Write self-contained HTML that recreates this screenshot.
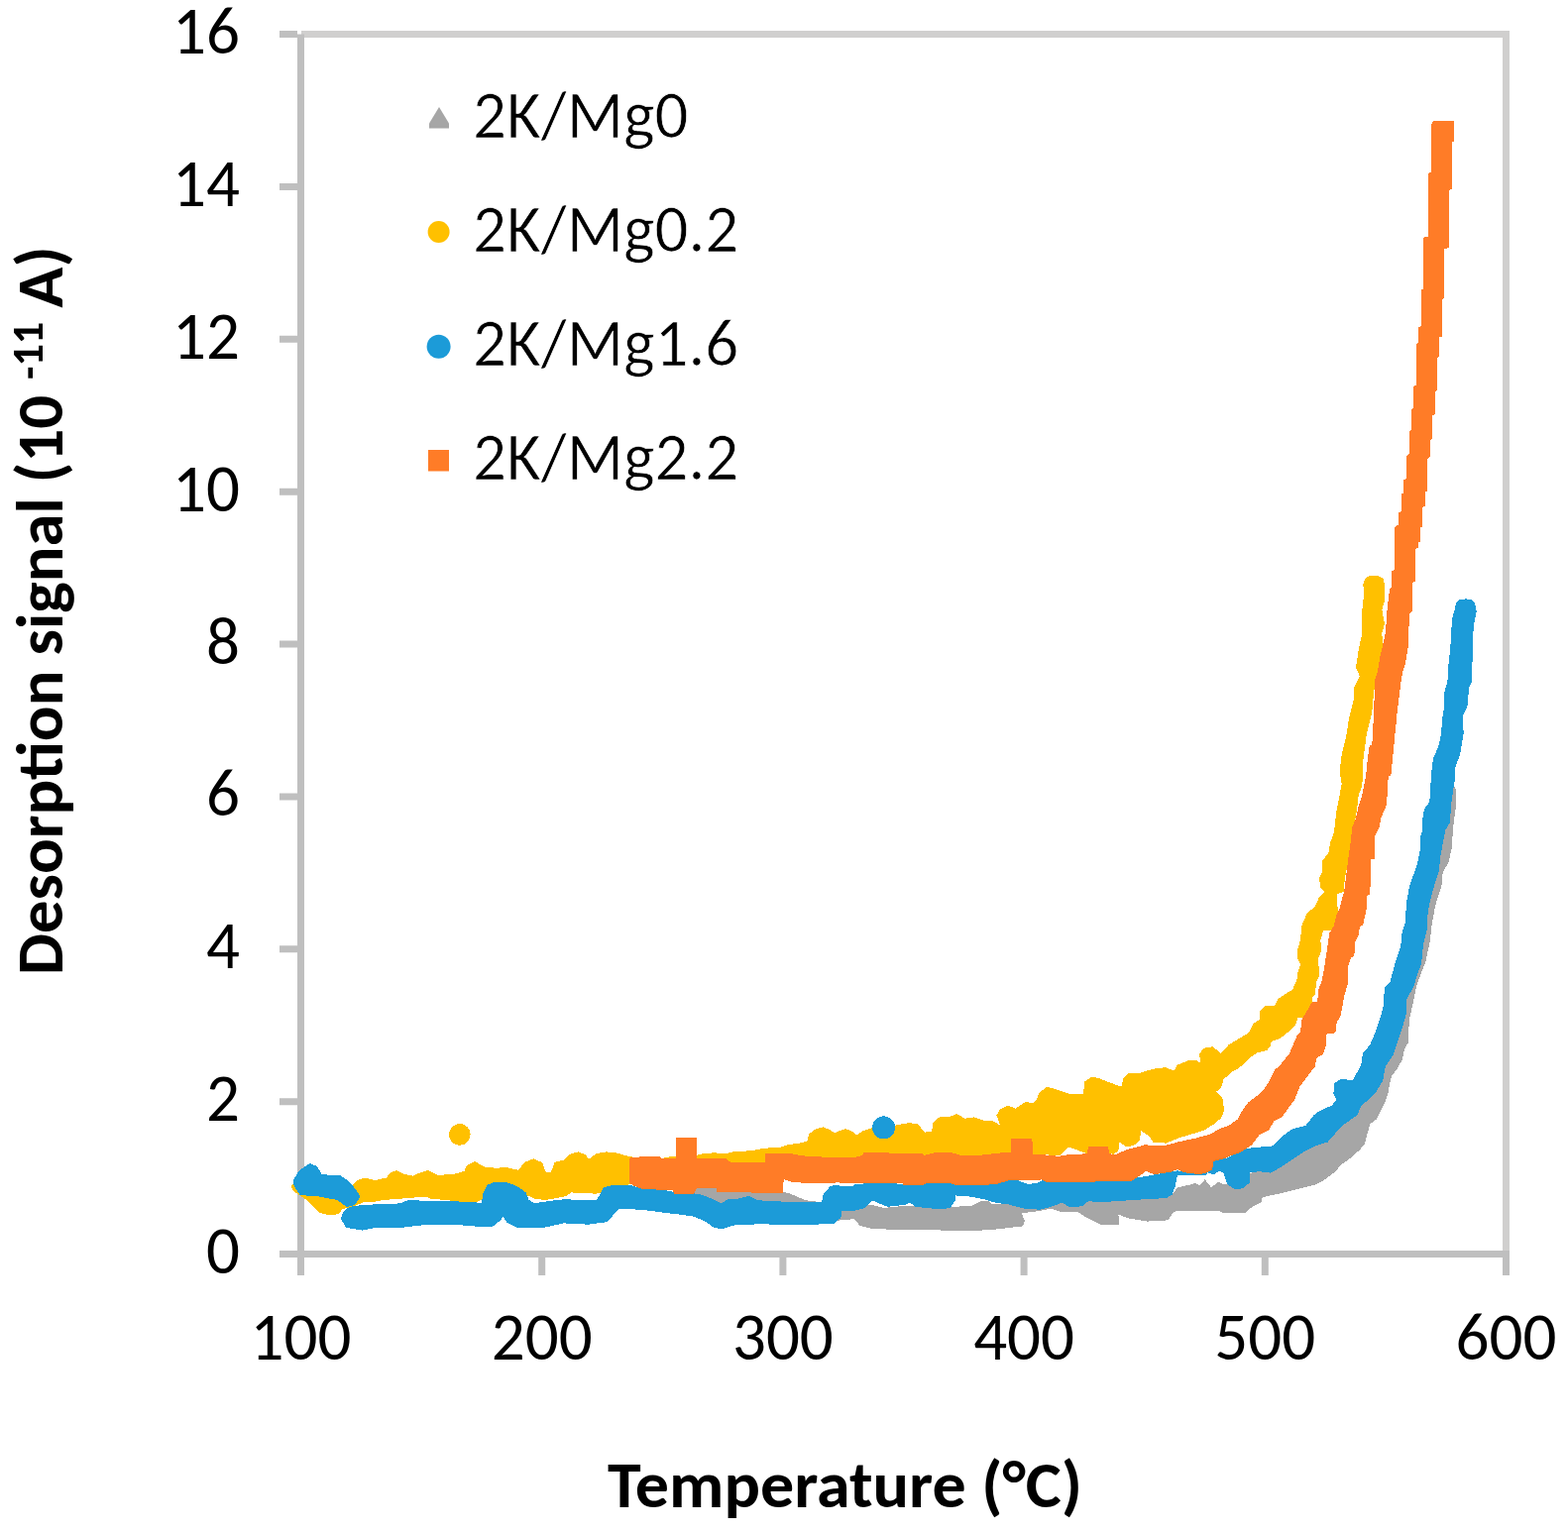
<!DOCTYPE html><html><head><meta charset="utf-8"><title>Desorption signal vs Temperature</title><style>html,body{margin:0;padding:0;background:#fff;overflow:hidden;}svg{display:block}text{font-family:"Carlito","Liberation Sans",sans-serif;fill:#000}text.r{stroke:#fff;stroke-width:0.7px}</style></head><body><svg width="1582" height="1546" viewBox="0 0 1582 1546"><rect width="1582" height="1546" fill="#fff"/><path d="M304 34.5H1519.5V1265.5" fill="none" stroke="#D0CFCE" stroke-width="7"/><path d="M303.5 34.5V1287M282 1265.5H1523" fill="none" stroke="#BFBFBF" stroke-width="7"/><path d="M282 1265.5H300M282 1111.625H300M282 957.75H300M282 803.875H300M282 650.0H300M282 496.125H300M282 342.25H300M282 188.375H300M282 34.5H300" stroke="#BFBFBF" stroke-width="7"/><path d="M303.5 1265.5V1287M546.7 1265.5V1287M789.9 1265.5V1287M1033.1 1265.5V1287M1276.3 1265.5V1287M1519.5 1265.5V1287" stroke="#BFBFBF" stroke-width="7"/><g shape-rendering="crispEdges"><path d="M690.0,1198.0 703.0,1197.3 723.0,1199.2 790.7,1203.0 796.4,1204.3 812.9,1211.3 823.0,1212.5 850.0,1215.0 880.2,1215.9 891.6,1219.0 915.6,1216.5 938.4,1218.4 963.7,1217.8 981.4,1216.5 991.5,1211.5 996.5,1211.5 1000.3,1215.3 1018.0,1214.6 1040.0,1215.0 1062.6,1215.5 1074.0,1213.6 1094.2,1211.7 1161.3,1209.8 1182.7,1205.4 1187.8,1198.4 1201.7,1195.3 1205.5,1194.0 1210.6,1196.5 1215.6,1190.2 1222.0,1198.4 1229.5,1192.7 1234.6,1195.3 1238.4,1195.0 1260.0,1185.0 1290.0,1170.0 1320.0,1150.0 1345.0,1135.0 1370.0,1110.0 1390.0,1070.0 1400.0,1030.0 1415.0,990.0 1425.0,950.0 1435.0,910.0 1445.0,870.0 1452.0,830.0 1458.0,800.0 1462.0,791.0 1466.0,791.0 1468.6,796.5 1468.6,816.4 1466.7,830.0 1464.5,856.8 1461.5,870.2 1455.6,880.6 1454.8,892.5 1449.6,908.9 1447.4,917.8 1444.4,934.2 1442.9,949.0 1438.5,969.9 1434.0,981.8 1429.5,993.7 1425.8,1011.5 1422.1,1027.9 1421.1,1041.3 1421.1,1051.6 1417.2,1058.1 1414.6,1069.8 1409.5,1078.8 1404.3,1085.3 1401.7,1095.6 1400.4,1103.4 1397.8,1111.2 1392.7,1121.5 1388.8,1129.3 1382.3,1134.4 1379.7,1143.5 1377.1,1153.8 1372.0,1160.3 1361.6,1169.4 1352.5,1175.8 1347.4,1182.3 1337.0,1190.1 1328.0,1195.2 1317.6,1197.8 1291.7,1204.3 1273.6,1208.2 1272.3,1213.4 1262.6,1218.5 1256.8,1223.7 1233.3,1223.7 1229.5,1221.8 1187.8,1221.8 1182.7,1224.4 1179.0,1231.3 1157.5,1232.6 1138.5,1229.4 1128.4,1225.6 1129.6,1236.4 1110.7,1235.7 1094.2,1227.5 1087.9,1223.1 1069.0,1222.5 1060.0,1219.7 1043.3,1222.9 1030.7,1224.1 1033.8,1231.7 1032.0,1237.4 1004.1,1240.6 986.4,1241.8 910.6,1241.2 879.0,1239.9 867.6,1236.8 862.0,1230.2 847.0,1231.5 800.0,1232.0 720.0,1230.0 690.0,1225.0Z" fill="#A6A6A6"/><path d="M294.0,1197.0 300.0,1188.0 320.0,1185.0 345.0,1190.0 355.7,1196.0 360.8,1191.0 368.4,1188.5 378.5,1191.0 389.9,1188.5 393.7,1183.4 400.0,1181.0 407.6,1184.7 416.4,1186.6 424.0,1183.4 431.6,1181.0 441.7,1186.0 458.1,1184.7 468.3,1182.0 470.8,1175.9 479.6,1172.0 485.0,1175.6 490.0,1178.0 502.8,1178.8 507.8,1177.5 523.0,1180.7 529.3,1173.0 538.2,1169.3 547.0,1173.0 550.8,1183.2 555.9,1183.2 559.6,1173.0 568.5,1170.6 576.0,1164.2 583.7,1162.4 591.3,1165.5 593.8,1170.0 601.4,1164.2 611.5,1162.4 622.9,1163.6 635.5,1167.4 650.0,1168.0 669.6,1168.7 673.8,1167.6 702.9,1165.7 708.0,1164.5 720.6,1163.2 730.7,1164.5 740.8,1162.0 758.5,1161.3 771.0,1158.8 787.6,1157.5 793.9,1155.6 809.0,1153.1 814.1,1151.8 816.6,1144.2 821.7,1139.8 830.6,1137.3 838.1,1140.5 841.9,1143.6 847.0,1141.0 853.3,1139.2 859.6,1141.7 864.7,1145.5 867.2,1143.6 870.0,1141.7 872.6,1140.7 880.0,1138.0 903.0,1135.6 916.9,1133.1 925.7,1134.4 933.3,1142.6 940.3,1142.0 940.9,1133.1 948.5,1126.8 957.3,1127.4 965.0,1124.2 973.8,1128.7 982.6,1127.4 994.0,1131.2 1001.6,1131.2 1009.2,1135.6 1005.4,1125.5 1009.2,1119.2 1016.8,1115.4 1024.4,1118.6 1034.5,1112.2 1042.0,1112.9 1045.8,1110.3 1048.4,1102.8 1056.0,1097.1 1060.0,1097.7 1069.0,1100.5 1080.3,1104.2 1093.0,1104.2 1094.2,1091.6 1101.8,1086.5 1109.4,1088.4 1125.9,1094.8 1132.2,1096.7 1132.8,1088.4 1138.5,1082.8 1149.9,1082.8 1157.5,1080.2 1166.3,1078.3 1175.9,1077.2 1185.0,1080.6 1187.3,1074.9 1193.0,1072.6 1198.7,1070.4 1207.8,1070.4 1211.2,1072.6 1210.1,1063.5 1214.6,1057.8 1223.7,1056.1 1231.7,1063.0 1239.6,1054.4 1251.0,1047.6 1260.1,1041.9 1264.7,1032.8 1271.5,1028.3 1270.9,1020.3 1277.2,1014.6 1286.3,1014.6 1289.7,1007.8 1296.5,1003.2 1303.9,999.0 1309.3,986.7 1309.3,981.3 1312.0,973.2 1309.3,967.7 1309.3,958.2 1312.0,948.7 1313.4,933.8 1318.8,921.5 1327.0,914.7 1331.0,905.2 1336.5,900.5 1332.4,895.7 1331.0,886.2 1333.8,880.8 1334.4,868.5 1340.5,860.4 1341.9,850.9 1346.0,840.0 1348.1,820.0 1351.7,801.9 1353.6,791.0 1351.7,778.3 1353.6,762.0 1358.1,743.9 1359.9,733.0 1360.8,725.8 1366.2,704.1 1366.2,693.2 1371.7,682.3 1368.0,673.3 1370.8,655.1 1373.5,642.5 1373.5,624.3 1375.3,606.2 1376.2,600.8 1375.3,589.9 1377.0,584.0 1381.0,581.5 1386.2,580.9 1391.0,581.5 1395.5,584.0 1397.0,589.9 1397.0,606.2 1394.3,615.3 1397.0,629.8 1394.3,638.8 1395.2,653.3 1389.8,684.1 1386.2,696.8 1384.3,718.6 1378.9,740.3 1375.3,767.5 1374.4,792.8 1370.8,801.9 1368.9,818.2 1365.0,840.0 1363.0,844.1 1362.3,864.5 1358.9,875.3 1356.8,887.6 1355.5,899.8 1348.7,902.5 1348.7,907.9 1350.0,918.8 1348.7,932.4 1346.0,939.2 1335.1,939.2 1332.4,948.7 1332.9,960.0 1329.5,969.1 1330.6,975.9 1330.6,986.2 1327.8,990.7 1327.2,1003.2 1323.8,1006.6 1323.8,1015.7 1319.3,1019.2 1314.7,1027.1 1309.0,1027.1 1307.9,1032.8 1304.5,1037.4 1296.5,1044.2 1291.7,1047.8 1282.9,1051.0 1281.7,1055.6 1278.3,1060.1 1268.1,1062.4 1260.1,1068.1 1253.3,1074.9 1250.0,1077.7 1243.4,1081.5 1234.6,1089.1 1232.0,1097.9 1227.0,1101.7 1233.3,1108.0 1235.2,1120.7 1232.0,1128.3 1224.5,1134.6 1214.4,1140.9 1201.7,1144.7 1189.1,1148.5 1176.4,1153.6 1163.8,1152.9 1158.7,1146.0 1151.1,1140.9 1149.9,1151.0 1143.6,1156.1 1136.0,1157.3 1129.6,1152.3 1128.4,1161.1 1123.3,1164.9 1118.9,1163.7 1100.0,1165.0 1095.5,1163.7 1077.8,1157.3 1069.0,1166.2 1050.0,1165.0 985.2,1168.5 978.8,1169.1 970.0,1166.0 900.0,1170.0 800.0,1175.0 700.0,1190.0 635.5,1195.0 620.0,1200.0 601.4,1204.7 588.7,1204.0 576.0,1203.4 571.0,1207.2 550.8,1211.0 539.4,1209.8 534.4,1207.2 487.2,1210.0 478.4,1214.4 460.7,1213.0 451.8,1211.0 435.4,1210.0 429.0,1207.5 416.4,1208.7 400.0,1210.0 386.0,1211.0 378.5,1212.5 368.4,1212.5 355.7,1218.0 345.6,1220.0 341.8,1225.0 333.0,1226.4 322.9,1224.0 310.0,1211.0 304.0,1207.5 295.0,1201.0Z" fill="#FFC000"/><circle cx="463.8" cy="1144.9" r="10.75" fill="#FFC000"/><path d="M344.0,1230.0 346.0,1224.0 350.0,1219.0 356.0,1217.0 371.0,1215.7 404.0,1214.4 411.0,1211.3 454.0,1212.0 486.0,1213.8 487.6,1203.4 491.4,1195.9 499.0,1192.7 511.6,1193.3 521.7,1197.0 530.6,1203.4 533.7,1211.0 539.4,1214.2 555.9,1211.7 571.0,1210.0 581.0,1211.0 601.4,1211.0 605.2,1206.0 609.0,1198.4 619.0,1195.5 638.0,1196.5 648.0,1199.6 670.0,1201.0 680.0,1203.0 700.0,1204.3 708.0,1205.6 720.6,1210.6 728.2,1214.4 733.2,1210.6 745.9,1209.4 756.0,1206.8 764.8,1211.3 787.6,1212.5 815.4,1213.1 829.3,1212.5 830.6,1205.0 838.1,1196.7 845.7,1196.0 848.3,1197.3 860.9,1197.3 862.2,1194.8 870.0,1194.8 881.5,1192.5 910.6,1195.0 933.3,1194.4 940.9,1191.2 948.5,1191.9 961.1,1194.4 1016.8,1191.2 1026.9,1191.2 1037.0,1195.0 1045.8,1193.8 1052.2,1191.2 1060.0,1192.5 1100.0,1190.0 1150.0,1188.0 1187.8,1181.4 1216.9,1184.5 1224.5,1171.9 1237.1,1168.7 1240.0,1167.4 1256.8,1159.0 1284.0,1156.4 1294.3,1146.1 1303.4,1139.6 1317.6,1135.7 1325.4,1125.4 1330.6,1121.5 1343.5,1115.7 1348.7,1109.9 1345.4,1103.4 1346.1,1093.0 1353.8,1088.5 1364.2,1090.5 1366.8,1086.6 1373.2,1074.9 1375.0,1063.0 1382.3,1054.2 1387.9,1041.3 1392.3,1027.9 1396.0,1014.5 1396.8,996.7 1402.7,990.7 1405.7,978.8 1408.7,968.4 1413.2,955.0 1414.6,941.6 1417.6,931.2 1419.1,910.4 1422.1,894.0 1429.5,873.2 1432.5,859.8 1433.0,845.0 1435.1,838.1 1435.1,827.2 1436.9,816.4 1442.3,809.1 1444.1,780.1 1445.9,765.7 1451.4,753.0 1454.1,740.3 1455.0,725.8 1456.8,714.9 1456.8,700.4 1460.4,687.8 1461.3,671.4 1463.2,655.1 1465.0,624.3 1467.7,615.3 1469.0,608.0 1473.0,605.0 1478.6,604.4 1484.0,605.0 1488.0,609.0 1489.8,617.1 1486.7,631.6 1485.8,658.8 1484.9,687.8 1482.2,693.2 1480.4,713.1 1475.8,722.2 1476.7,740.3 1473.1,762.0 1468.6,772.9 1467.7,787.4 1464.0,812.7 1463.0,830.0 1458.5,837.4 1456.3,847.9 1453.3,864.2 1451.8,879.1 1447.4,892.5 1443.7,905.9 1440.7,919.3 1439.9,937.1 1436.2,952.0 1434.0,972.9 1429.5,984.8 1426.5,995.2 1419.1,1008.6 1419.1,1022.0 1414.0,1040.0 1405.6,1064.6 1397.8,1076.2 1395.2,1090.5 1387.5,1103.4 1373.2,1116.3 1369.4,1125.4 1356.4,1134.4 1347.4,1143.5 1339.6,1152.5 1330.6,1155.1 1317.6,1161.0 1304.7,1169.4 1291.7,1178.4 1281.4,1183.6 1271.0,1182.3 1261.5,1183.0 1261.0,1193.3 1254.2,1199.1 1246.5,1200.4 1240.0,1196.5 1238.4,1195.3 1234.6,1183.9 1230.8,1181.4 1224.5,1185.2 1218.1,1183.3 1216.9,1186.0 1195.0,1186.0 1187.8,1186.4 1185.9,1196.5 1182.7,1205.4 1176.4,1209.2 1161.3,1209.8 1113.2,1213.0 1098.0,1212.3 1091.7,1217.4 1079.0,1218.0 1071.5,1213.6 1060.1,1218.0 1050.0,1220.6 1037.0,1220.3 1028.1,1218.4 1016.8,1215.3 1005.4,1214.0 992.7,1210.2 980.1,1207.7 963.7,1206.4 963.7,1211.5 958.6,1219.0 948.5,1220.3 923.2,1217.8 918.2,1213.4 913.1,1215.9 895.4,1217.8 880.2,1211.5 872.6,1219.0 860.0,1222.2 849.5,1222.0 848.3,1229.0 840.7,1235.3 796.4,1235.9 764.8,1235.3 740.8,1236.5 728.2,1240.3 720.6,1239.0 711.7,1232.7 700.3,1227.7 682.6,1225.2 670.0,1223.9 657.0,1221.8 634.2,1219.9 624.1,1219.9 616.5,1228.7 612.7,1233.1 593.8,1235.7 568.5,1234.4 545.7,1239.5 521.7,1238.8 511.6,1233.8 507.2,1227.5 505.3,1231.3 496.4,1238.2 480.0,1237.6 467.0,1236.5 429.0,1236.0 403.8,1239.0 378.5,1239.0 365.9,1241.6 349.4,1239.0Z" fill="#1C9BD8"/><path d="M296.3,1190.0 302.0,1181.0 312.8,1174.0 320.0,1177.0 324.8,1185.3 343.0,1186.0 350.7,1191.0 355.7,1196.0 362.7,1206.0 362.7,1208.7 358.0,1216.0 349.4,1218.0 340.6,1211.0 321.6,1207.5 302.6,1206.0 296.3,1196.0Z" fill="#1C9BD8"/><circle cx="891.6" cy="1137.9" r="11.5" fill="#1C9BD8"/><path d="M634.9,1193.3 634.9,1168.7 645.6,1167.4 665.8,1167.4 668.4,1169.3 682.0,1169.5 682.0,1148.0 702.9,1148.0 702.9,1168.9 732.0,1168.9 737.0,1172.7 771.8,1172.7 771.8,1163.8 796.4,1163.8 809.0,1166.4 826.8,1167.0 833.0,1168.3 862.0,1168.3 870.0,1165.7 871.4,1163.4 894.0,1163.4 910.6,1164.0 930.8,1164.0 932.7,1166.0 942.2,1163.4 961.1,1163.4 970.0,1166.0 986.4,1166.0 1010.4,1163.4 1019.9,1162.8 1019.9,1149.3 1041.4,1149.3 1042.0,1165.0 1050.0,1165.0 1067.7,1166.8 1079.0,1165.0 1096.8,1164.3 1098.0,1157.3 1118.3,1157.3 1118.9,1164.3 1125.9,1165.0 1137.2,1159.9 1154.9,1155.4 1175.2,1156.1 1189.1,1152.3 1206.8,1148.5 1220.7,1144.7 1232.0,1138.4 1240.0,1135.7 1249.0,1129.3 1252.9,1121.5 1259.4,1112.4 1269.8,1104.7 1274.9,1100.0 1280.1,1091.7 1286.6,1078.8 1289.7,1077.2 1295.6,1069.8 1300.8,1063.3 1304.7,1054.2 1309.0,1044.2 1311.9,1041.9 1313.6,1028.3 1319.3,1019.2 1323.8,1011.2 1329.0,1011.2 1329.5,1006.6 1330.6,997.5 1333.8,989.5 1336.5,973.8 1339.2,956.8 1341.2,941.9 1346.0,933.8 1348.0,924.2 1351.4,917.4 1353.4,909.3 1356.2,899.8 1358.2,883.5 1360.2,867.2 1362.6,850.0 1364.4,834.5 1368.0,825.4 1370.8,812.7 1374.4,801.9 1378.0,783.8 1379.8,765.7 1381.6,753.0 1384.3,751.2 1386.2,718.6 1387.1,685.9 1389.8,678.7 1392.5,662.4 1397.9,638.8 1399.7,613.5 1402.2,594.0 1404.3,592.7 1404.3,575.9 1407.2,575.0 1407.2,532.5 1411.3,528.8 1411.3,517.1 1414.2,515.7 1414.2,498.5 1416.3,498.0 1416.3,484.0 1419.3,483.0 1419.5,459.6 1421.6,458.3 1421.6,435.0 1424.2,433.8 1424.2,413.0 1426.3,411.8 1426.3,389.8 1428.6,388.5 1428.6,347.1 1431.2,345.8 1431.2,330.3 1433.8,329.0 1433.8,292.8 1436.3,291.5 1436.3,239.7 1441.0,238.4 1441.0,175.0 1443.6,173.7 1443.6,125.9 1446.2,122.0 1466.9,122.0 1466.9,142.7 1464.8,142.7 1464.8,190.6 1462.2,191.8 1462.2,250.0 1457.0,251.4 1457.0,300.5 1455.2,301.8 1455.2,339.3 1452.1,340.6 1452.1,360.0 1450.0,361.3 1450.0,393.7 1448.0,395.0 1448.0,418.2 1444.9,419.5 1444.9,442.8 1442.8,444.1 1443.0,460.0 1440.0,464.1 1440.0,495.8 1437.8,496.2 1437.8,510.7 1435.0,512.1 1435.0,532.0 1433.0,532.5 1433.0,547.0 1431.0,547.4 1431.0,552.8 1428.0,554.2 1428.0,586.8 1425.1,588.1 1425.1,617.1 1422.4,618.9 1421.5,631.6 1420.6,653.3 1417.9,669.6 1415.1,678.7 1413.3,689.6 1409.7,718.6 1407.9,736.7 1403.4,782.0 1400.7,783.8 1399.7,801.9 1398.8,812.7 1393.4,825.4 1391.6,834.5 1388.8,840.0 1386.7,845.4 1386.7,866.5 1383.3,867.2 1383.3,883.5 1382.0,902.5 1378.6,903.9 1378.6,917.4 1375.2,933.8 1371.8,935.1 1371.1,943.3 1367.0,950.7 1366.4,965.0 1363.0,966.4 1359.6,977.2 1359.6,993.5 1356.8,1003.0 1354.1,1016.6 1352.8,1024.8 1348.7,1031.6 1347.3,1042.4 1340.0,1043.0 1337.5,1044.2 1337.5,1055.6 1335.2,1063.5 1327.8,1068.1 1327.2,1076.0 1321.5,1082.9 1317.0,1089.0 1315.5,1091.1 1311.4,1096.2 1306.4,1109.3 1298.3,1120.5 1293.3,1127.5 1285.2,1131.6 1280.1,1140.7 1271.0,1144.8 1263.3,1155.1 1251.6,1162.9 1240.0,1166.8 1237.1,1168.7 1224.5,1171.9 1223.2,1180.1 1218.1,1183.3 1210.6,1185.2 1195.4,1183.3 1187.8,1180.1 1181.5,1182.6 1165.0,1185.2 1156.2,1182.0 1142.3,1191.5 1113.2,1192.1 1086.7,1193.4 1056.3,1193.4 1050.0,1190.2 1049.6,1191.2 1018.0,1191.2 1005.4,1195.0 986.4,1196.3 963.7,1195.7 958.6,1193.8 935.9,1193.8 930.8,1196.3 911.2,1196.3 910.6,1194.4 860.0,1194.4 849.5,1194.2 845.7,1193.0 839.4,1194.2 814.0,1194.2 796.4,1192.3 790.7,1189.8 790.0,1203.7 771.0,1203.7 723.0,1203.0 723.0,1199.2 702.9,1198.6 700.3,1205.0 680.0,1205.0 678.8,1201.0 670.0,1201.0 646.9,1199.6 638.0,1195.9Z" fill="#FF7C27"/></g><text x="242" y="1285.0" font-size="67" text-anchor="end" textLength="33.97">0</text><text x="242" y="1131.1" font-size="67" text-anchor="end" textLength="33.97">2</text><text x="242" y="977.2" font-size="67" text-anchor="end" textLength="33.97">4</text><text x="242" y="823.4" font-size="67" text-anchor="end" textLength="33.97">6</text><text x="242" y="669.5" font-size="67" text-anchor="end" textLength="33.97">8</text><text x="242" y="515.6" font-size="67" text-anchor="end" textLength="67.94">10</text><text x="242" y="361.8" font-size="67" text-anchor="end" textLength="67.94">12</text><text x="242" y="207.9" font-size="67" text-anchor="end" textLength="67.94">14</text><text x="242" y="54.0" font-size="67" text-anchor="end" textLength="67.94">16</text><text x="303.5" y="1372" font-size="67" text-anchor="middle" textLength="101.88">100</text><text x="546.7" y="1372" font-size="67" text-anchor="middle" textLength="101.88">200</text><text x="789.9" y="1372" font-size="67" text-anchor="middle" textLength="101.88">300</text><text x="1033.1" y="1372" font-size="67" text-anchor="middle" textLength="101.88">400</text><text x="1276.3" y="1372" font-size="67" text-anchor="middle" textLength="101.88">500</text><text x="1519.5" y="1372" font-size="67" text-anchor="middle" textLength="101.88">600</text><path d="M443 108.0L453 124.5V129.5H433V124.5Z" fill="#A6A6A6"/><text class="r" x="477" y="138.5" font-size="67" textLength="217.44">2K/Mg0</text><circle cx="442.6" cy="234" r="11" fill="#FFC000"/><text class="r" x="477" y="253.5" font-size="67" textLength="268.3">2K/Mg0.2</text><circle cx="442.6" cy="349.8" r="12" fill="#1C9BD8"/><text class="r" x="477" y="368.5" font-size="67" textLength="268.3">2K/Mg1.6</text><rect x="432" y="454" width="21" height="21.5" fill="#FF7C27"/><text class="r" x="477" y="483.5" font-size="67" textLength="268.3">2K/Mg2.2</text><text x="613" y="1521" font-size="66" font-weight="bold" textLength="479" lengthAdjust="spacingAndGlyphs">Temperature (°C)</text><g transform="translate(63,979) rotate(-90)"><text x="-5" y="0" font-size="66" font-weight="bold" textLength="585" lengthAdjust="spacingAndGlyphs">Desorption signal (10</text><text x="596" y="-20" font-size="44" font-weight="bold" textLength="58.08">-11</text><text x="668.5" y="0" font-size="67.5" font-weight="bold" textLength="61.94">A)</text></g></svg></body></html>
